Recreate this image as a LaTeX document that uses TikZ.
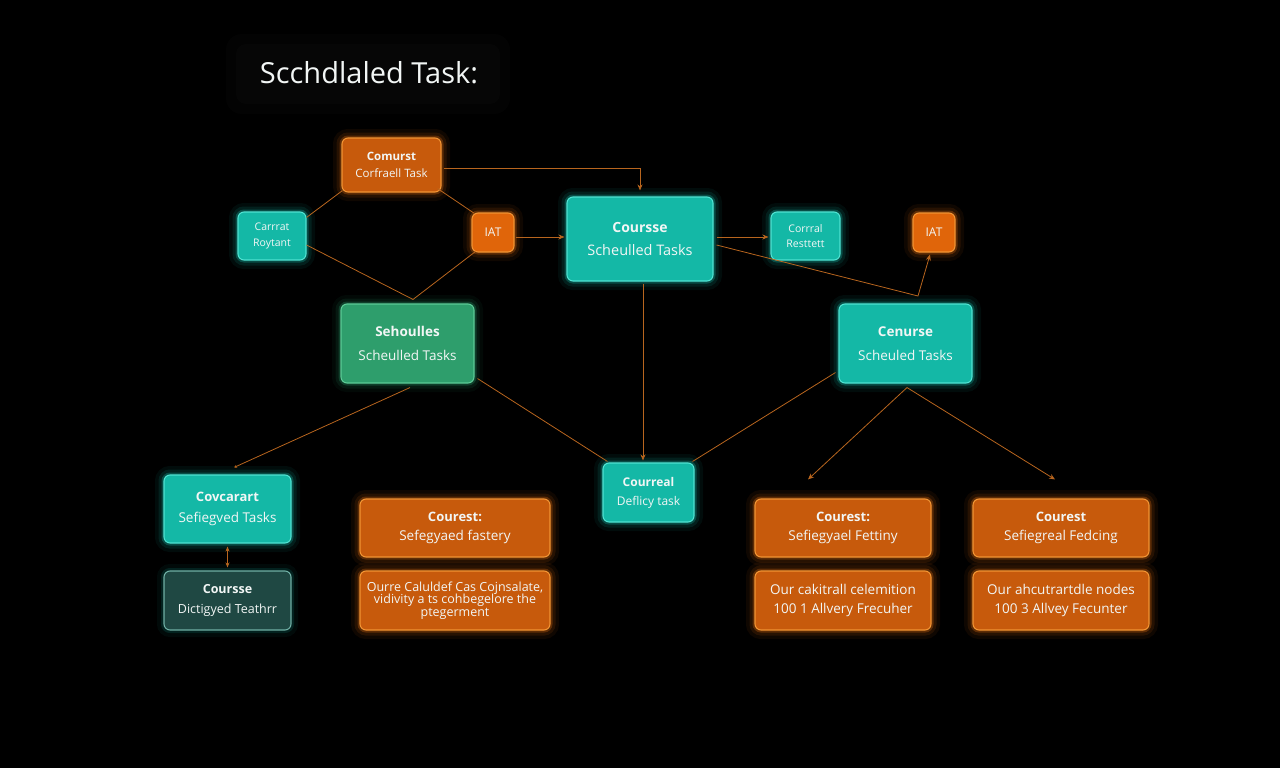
\documentclass[tikz,border=0pt]{standalone}
\usepackage{fontspec}
\setmainfont{Open Sans}
\usetikzlibrary{arrows.meta}
\definecolor{bg}{HTML}{000000}
\definecolor{tealfill}{HTML}{14B8A6}
\definecolor{tealedge}{HTML}{4FE3D2}
\definecolor{tealglow}{HTML}{18D6C4}
\definecolor{greenfill}{HTML}{2E9E6C}
\definecolor{greenedge}{HTML}{5CCB96}
\definecolor{greenglow}{HTML}{2FC283}
\definecolor{darkfill}{HTML}{1F4843}
\definecolor{darkedge}{HTML}{6FAFA4}
\definecolor{orgfill}{HTML}{C75A0C}
\definecolor{orgedge}{HTML}{F29433}
\definecolor{orgglow}{HTML}{FF7A12}
\definecolor{iatfill}{HTML}{E0650A}
\definecolor{conncol}{HTML}{B8651E}
\definecolor{txt}{HTML}{F2F6F5}
\tikzset{
  basebox/.style={rounded corners=6pt, line width=1.1pt, text=txt, align=center, inner sep=0pt},
  tealbox/.style={basebox, draw=tealedge, fill=tealfill,
    preaction={draw=tealglow, line width=18pt, opacity=0.06},
    preaction={draw=tealglow, line width=11pt, opacity=0.10},
    preaction={draw=tealglow, line width=5pt, opacity=0.25}},
  greenbox/.style={basebox, draw=greenedge, fill=greenfill,
    preaction={draw=greenglow, line width=18pt, opacity=0.05},
    preaction={draw=greenglow, line width=11pt, opacity=0.09},
    preaction={draw=greenglow, line width=5pt, opacity=0.22}},
  darkbox/.style={basebox, draw=darkedge, fill=darkfill,
    preaction={draw=tealglow, line width=14pt, opacity=0.05},
    preaction={draw=tealglow, line width=6pt, opacity=0.12}},
  orgbox/.style={basebox, draw=orgedge, fill=orgfill,
    preaction={draw=orgglow, line width=18pt, opacity=0.06},
    preaction={draw=orgglow, line width=11pt, opacity=0.10},
    preaction={draw=orgglow, line width=5pt, opacity=0.25}},
  iatbox/.style={orgbox, fill=iatfill},
  conn/.style={draw=conncol, line width=0.8pt},
  tip/.style={-{Stealth[length=6pt,width=5pt]}},
  tiptwo/.style={{Stealth[length=5pt,width=4pt]}-{Stealth[length=5pt,width=4pt]}},
  fs/.style={font=\fontsize{#1}{#1}\selectfont},
}
\begin{document}
\begin{tikzpicture}[x=1pt,y=-1pt]
\fill[bg] (0,0) rectangle (1280,768);
\useasboundingbox (0,0) rectangle (1280,768);
% title panel
\fill[white, opacity=0.012, rounded corners=16pt] (226,34) rectangle (510,114);
\fill[white, opacity=0.015, rounded corners=10pt] (236,44) rectangle (500,104);
\node[text=txt, font=\fontsize{29}{33}\selectfont, anchor=center] (title) at (369,73) {Scchdlaled Task:};

% nodes
\node[orgbox, minimum width=99pt, minimum height=54pt, fs=11.5] (n1) at (391.5,165) {{\bfseries Comurst}\\[6pt]Corfraell Task};
\node[tealbox, minimum width=68pt, minimum height=48pt, fs=10.5] (n2) at (272,236) {Carrrat\\[5pt]Roytant};
\node[iatbox, minimum width=42pt, minimum height=39pt, fs=12] (n3) at (493,232.5) {IAT};
\node[tealbox, minimum width=146pt, minimum height=84pt, fs=14] (n4) at (640,239) {{\bfseries Coursse}\\[10pt]{\fontsize{14.5}{14}\selectfont Scheulled Tasks}};
\node[tealbox, minimum width=69pt, minimum height=48pt, fs=10.5] (n5) at (805.5,236) {Corrral\\[5pt]Resttett};
\node[iatbox, minimum width=42pt, minimum height=39pt, fs=12] (n6) at (934,232.5) {IAT};
\node[greenbox, minimum width=133pt, minimum height=79pt, fs=13.5] (n7) at (407.5,343.5) {{\bfseries Sehoulles}\\[10pt]{\fontsize{13.5}{13}\selectfont Scheulled Tasks}};
\node[tealbox, minimum width=133pt, minimum height=79pt, fs=13.5] (n8) at (905.5,343.5) {{\bfseries Cenurse}\\[10pt]{\fontsize{13.5}{13}\selectfont Scheuled Tasks}};
\node[tealbox, minimum width=127pt, minimum height=68pt, fs=13] (n9) at (227.5,509) {{\bfseries Covcarart}\\[8pt]{\fontsize{13.5}{13}\selectfont Sefiegved Tasks}};
\node[darkbox, minimum width=127pt, minimum height=59pt, fs=12.5] (n10) at (227.5,600.5) {{\bfseries Coursse}\\[7pt]Dictigyed Teathrr};
\node[orgbox, minimum width=190pt, minimum height=58pt, fs=13] (n11) at (455,528) {{\bfseries Courest:}\\[6pt]{\fontsize{13.5}{13}\selectfont Sefegyaed fastery}};
\node[orgbox, minimum width=190pt, minimum height=59pt, font=\fontsize{12.5}{12.5}\selectfont] (n12) at (455,600.5) {Ourre Caluldef Cas Cojnsalate,\\vidivity a ts cohbegelore the\\ptegerment};
\node[tealbox, minimum width=91pt, minimum height=59pt, fs=12] (n13) at (648.5,492.5) {{\bfseries Courreal}\\[7pt]Deflicy task};
\node[orgbox, minimum width=176pt, minimum height=58pt, fs=13] (n14) at (843,528) {{\bfseries Courest:}\\[6pt]{\fontsize{13.5}{13}\selectfont Sefiegyael Fettiny}};
\node[orgbox, minimum width=176pt, minimum height=59pt, fs=13.5] (n15) at (843,600.5) {Our cakitrall celemition\\[6pt]100 1 Allvery Frecuher};
\node[orgbox, minimum width=176pt, minimum height=58pt, fs=13] (n16) at (1061,528) {{\bfseries Courest}\\[6pt]{\fontsize{13.5}{13}\selectfont Sefiegreal Fedcing}};
\node[orgbox, minimum width=176pt, minimum height=59pt, fs=13.5] (n17) at (1061,600.5) {Our ahcutrartdle nodes\\[6pt]100 3 Allvey Fecunter};

% coordinates
\coordinate (v) at ([xshift=5.5pt,yshift=4pt]n7.north);
\coordinate (g1) at (918,296);

% connectors
\draw[conn,tip] ([xshift=2pt,yshift=-3pt]n1.east) -| ([yshift=6pt]n4.north);
\draw[conn] ([yshift=-6pt]n2.north east) -- ([xshift=1pt,yshift=2pt]n1.south west);
\draw[conn] ([xshift=-4pt,yshift=4pt]n1.south east) -- ([xshift=3pt,yshift=-1pt]n3.north west);
\draw[conn] ([yshift=-9pt]n2.east) -- (v);
\draw[conn] ([xshift=4pt,yshift=1pt]n3.south west) -- (v);
\draw[conn,tip] ([xshift=1pt,yshift=-4.5pt]n3.east) -- ([xshift=-2pt,yshift=2pt]n4.west);
\draw[conn,tip] ([xshift=3pt,yshift=2pt]n4.east) -- ([xshift=-2pt,yshift=-1pt]n5.west);
\draw[conn,tip] ([xshift=3pt,yshift=-6pt]n4.east) -- (g1) -- ([xshift=-4pt,yshift=-2pt]n6.south);
\draw[conn,tip] ([xshift=3pt,yshift=-2pt]n4.south) -- ([xshift=-5.5pt,yshift=2pt]n13.north);
\draw[conn] ([xshift=3pt,yshift=5pt]n7.south east) -- ([xshift=5pt,yshift=1pt]n13.north west);
\draw[conn] ([xshift=-3pt,yshift=11pt]n8.south west) -- ([xshift=-2pt,yshift=1pt]n13.north east);
\draw[conn,-{Stealth[length=3pt,width=3pt]}] ([xshift=2.5pt,yshift=-4pt]n7.south) -- ([xshift=6.5pt,yshift=7pt]n9.north);
\draw[conn,tip] ([xshift=1.5pt,yshift=-4pt]n8.south) -- ([xshift=-35pt,yshift=19pt]n14.north);
\draw[conn,tip] ([xshift=1.5pt,yshift=-4pt]n8.south) -- ([xshift=-6pt,yshift=19pt]n16.north);
\draw[conn,tiptwo] ([yshift=-3pt]n9.south) -- ([yshift=3pt]n10.north);
\end{tikzpicture}
\end{document}
